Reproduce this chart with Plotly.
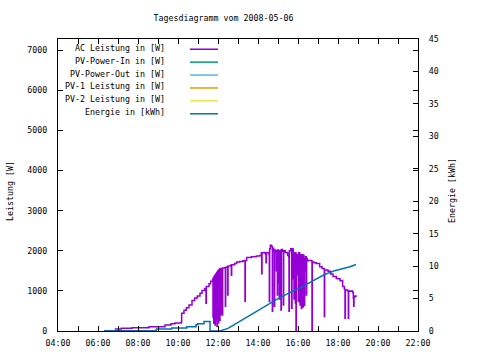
import plotly.graph_objects as go

DAY = "2008-05-06 "

# ---- AC Leistung in [W] ----
ac_time = ["06:50","07:10","07:42","08:33","09:00","09:21","09:39","09:51","10:10","10:11",
           "10:18","10:25","10:33","10:42","10:50","10:58","11:06","11:12","11:20","11:24",
           "11:25","11:33","11:38","11:44",
           "11:45","11:46","11:47","11:48","11:49","11:50","11:51","11:52","11:53","11:54",
           "11:55","11:56","11:57","11:58","11:59","12:00","12:01","12:02","12:03","12:04",
           "12:05","12:06","12:07","12:08","12:09","12:10",
           "12:12","12:13","12:14","12:20","12:22","12:23","12:28","12:29","12:30","12:38",
           "12:40","12:41","12:50","12:56","13:05","13:15","13:21","13:22","13:26","13:40",
           "13:55","14:05","14:10","14:11","14:12","14:18","14:22","14:24","14:25","14:30",
           "14:33","14:34","14:35","14:37","14:40","14:42","14:43","14:44","14:47","14:49",
           "14:50","14:53","14:55","14:56","14:58","14:59","15:01","15:02","15:04","15:05",
           "15:08","15:09","15:10","15:14","15:16","15:17","15:22","15:26","15:29","15:32",
           "15:33","15:34","15:38","15:41","15:42","15:45","15:46","15:47","15:48","15:49",
           "15:50","15:51","15:52","15:53","15:54","15:55","15:57","15:59","16:00","16:01",
           "16:02","16:05","16:06","16:07","16:09","16:10","16:11","16:13","16:14","16:15",
           "16:16","16:18","16:19","16:20","16:22","16:23","16:25","16:26","16:28","16:30",
           "16:35","16:40","16:42","16:43","16:48","16:55","17:05","17:12","17:19","17:20",
           "17:30","17:38","17:45","17:55","18:00","18:06","18:12","18:14","18:19","18:21",
           "18:22","18:29","18:31","18:32","18:36","18:40","18:44","18:46","18:47","18:48",
           "18:51","18:54"]
ac_watt = [50,70,80,105,108,150,180,200,230,445,
           520,580,650,760,820,870,940,1010,1060,690,
           1110,1180,1240,1290,
           350,1320,200,1350,300,1380,150,1400,330,1430,
           250,1450,120,1480,280,1500,200,1520,350,1540,
           260,1550,400,1560,450,1560,
           1560,400,1570,1580,615,1590,1600,900,1620,1640,
           1390,1650,1680,1720,1730,1750,740,1760,1830,1850,
           1870,1880,1950,1430,1950,1960,1920,1700,1950,1960,
           1900,735,2050,2135,2120,2100,495,2060,2000,615,
           2020,1980,1500,2000,900,2020,1200,2000,800,2010,
           2000,525,2030,1990,650,2000,1960,1950,1880,1850,
           495,2000,2050,570,2050,2020,1300,1950,800,1900,
           1100,1920,700,1950,0,1900,1850,1400,1900,740,
           1950,1850,650,1900,1880,560,1850,1000,1900,600,
           1880,1750,640,1800,1500,1850,900,1800,1750,1760,
           1760,1750,0,1720,1700,1680,1600,1560,360,1520,
           1490,1420,1360,1310,1300,1250,1260,1110,1050,320,
           1020,1000,320,1000,990,1000,960,815,620,850,
           870,850]

# ---- Energie in [kWh] ----
en_time = ["06:18","08:55","08:55","09:41","09:41","10:26","10:26","10:54","10:54","10:59",
           "10:59","11:18","11:18","11:36","11:36",
           "12:06","12:30","13:00","14:00","14:45","15:00","15:50","16:06","16:40","17:20",
           "17:50","18:15","18:36","18:54"]
en_kwh = [0.05,0.05,0.3,0.3,0.46,0.46,0.66,0.66,0.97,0.97,
          1.12,1.12,1.48,1.48,0.0,
          0.0,0.4,1.3,3.2,4.5,5.0,6.3,6.6,7.6,8.7,
          9.3,9.6,9.9,10.25]

series_names = ["AC Leistung in [W]", "PV-Power-In in [W]", "PV-Power-Out in [W]",
                "PV-1 Leistung in [W]", "PV-2 Leistung in [W]", "Energie in [kWh]"]
series_colors = ["#9400D3", "#009E73", "#56B4E9", "#E69F00", "#F0E442", "#0072B2"]

left_ticks = [0, 1000, 2000, 3000, 4000, 5000, 6000, 7000]
right_ticks = [0, 5, 10, 15, 20, 25, 30, 35, 40, 45]

FONT = "DejaVu Sans Mono"
FS = 8.3
LW = 1.5

fig = go.Figure()
fig.add_trace(go.Scatter(x=[DAY + t for t in ac_time], y=ac_watt, mode="lines",
                         line=dict(color=series_colors[0], width=LW, shape="hv"),
                         name=series_names[0]))
for i in range(1, 5):
    fig.add_trace(go.Scatter(x=[], y=[], mode="lines", name=series_names[i],
                             line=dict(color=series_colors[i], width=LW)))
fig.add_trace(go.Scatter(x=[DAY + t for t in en_time], y=en_kwh, mode="lines",
                         line=dict(color=series_colors[5], width=LW),
                         name=series_names[5], yaxis="y2"))

L, R, T, B = 58, 62, 39, 27
W, H = 480, 360
ph = H - T - B
pw = W - L - R

def px_to_paper_y(py):
    return (H - B - py) / ph

def px_to_paper_x(px):
    return (px - L) / pw

ann = []
shapes = []
# manual gnuplot-style legend
for i, (nm, col) in enumerate(zip(series_names, series_colors)):
    ly = 49.3 + 13 * i
    ann.append(dict(x=px_to_paper_x(167), y=px_to_paper_y(ly - 1.5), xref="paper", yref="paper",
                    text=nm, showarrow=False, xanchor="right", yanchor="middle",
                    font=dict(family=FONT, size=FS, color="black")))
    shapes.append(dict(type="line", xref="paper", yref="paper",
                       x0=px_to_paper_x(190), x1=px_to_paper_x(218),
                       y0=px_to_paper_y(ly), y1=px_to_paper_y(ly),
                       line=dict(color=col, width=LW)))
# axis titles
ann.append(dict(x=px_to_paper_x(10), y=px_to_paper_y(192), xref="paper", yref="paper",
                text="Leistung [W]", showarrow=False, textangle=-90,
                xanchor="center", yanchor="middle",
                font=dict(family=FONT, size=FS, color="black")))
ann.append(dict(x=px_to_paper_x(452), y=px_to_paper_y(192), xref="paper", yref="paper",
                text="Energie [kWh]", showarrow=False, textangle=-90,
                xanchor="center", yanchor="middle",
                font=dict(family=FONT, size=FS, color="black")))

axis_common = dict(showgrid=False, zeroline=False, showline=True, linecolor="black",
                   linewidth=1, ticks="inside", tickcolor="black",
                   tickfont=dict(family=FONT, size=FS, color="black"))

fig.update_layout(
    width=W, height=H,
    margin=dict(l=L, r=R, t=T, b=B),
    paper_bgcolor="white", plot_bgcolor="white",
    showlegend=False,
    title=dict(text="Tagesdiagramm vom 2008-05-06", x=0.4656, xanchor="center",
               y=1 - 18 / H, yanchor="middle", xref="container", yref="container",
               font=dict(family=FONT, size=FS, color="black")),
    xaxis=dict(type="date", range=[DAY + "04:00", DAY + "22:00"],
               tick0=DAY + "04:00", dtick=7200000, tickformat="%H:%M",
               ticklen=5, mirror="allticks", ticklabelstandoff=4,
               minor=dict(dtick=3600000, ticks="inside", ticklen=3, tickcolor="black"),
               **axis_common),
    yaxis=dict(range=[0, 7280], tickvals=left_ticks, ticktext=[str(v) for v in left_ticks],
               ticklen=5, mirror="allticks", ticklabelstandoff=8, **axis_common),
    yaxis2=dict(range=[0, 45], tickvals=right_ticks, ticktext=[str(v) for v in right_ticks],
                overlaying="y", side="right", ticklen=5, ticklabelstandoff=8, **axis_common),
    annotations=ann, shapes=shapes,
)

fig.write_html("out.html", config={"displayModeBar": False},
               post_script="document.body.style.margin='0';document.body.style.overflow='hidden';")
